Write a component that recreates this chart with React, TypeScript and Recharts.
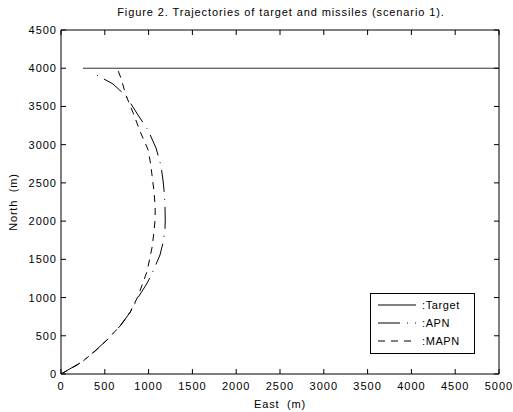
import React from 'react';
import { LineChart, Line, XAxis, YAxis, Legend } from 'recharts';

const TITLE = 'Figure 2. Trajectories of target and missiles (scenario 1).';
const X_LABEL = 'East\u00a0 (m)';
const Y_LABEL = 'North\u00a0 (m)';

const xTicks = [0, 500, 1000, 1500, 2000, 2500, 3000, 3500, 4000, 4500, 5000];
const yTicks = [0, 500, 1000, 1500, 2000, 2500, 3000, 3500, 4000, 4500];

const targetPath = [
  { x: 250, y: 4000 },
  { x: 5000, y: 4000 },
];

const apnPath = [
  { x: 0, y: 0 }, { x: 217, y: 144 }, { x: 388, y: 301 }, { x: 537, y: 458 },
  { x: 685, y: 641 }, { x: 799, y: 824 }, { x: 890, y: 1020 }, { x: 970, y: 1164 },
  { x: 1027, y: 1282 }, { x: 1096, y: 1465 }, { x: 1130, y: 1557 }, { x: 1164, y: 1714 },
  { x: 1187, y: 1884 }, { x: 1190, y: 2014 }, { x: 1187, y: 2211 }, { x: 1176, y: 2407 },
  { x: 1164, y: 2538 }, { x: 1142, y: 2721 }, { x: 1085, y: 2956 }, { x: 993, y: 3192 },
  { x: 879, y: 3388 }, { x: 742, y: 3637 }, { x: 594, y: 3794 }, { x: 365, y: 3937 },
];

const mapnPath = [
  { x: 0, y: 0 }, { x: 220, y: 140 }, { x: 390, y: 300 }, { x: 525, y: 445 },
  { x: 675, y: 630 }, { x: 790, y: 810 }, { x: 870, y: 995 }, { x: 935, y: 1190 },
  { x: 980, y: 1335 }, { x: 1005, y: 1465 }, { x: 1040, y: 1660 }, { x: 1060, y: 1845 },
  { x: 1075, y: 2030 }, { x: 1075, y: 2200 }, { x: 1060, y: 2405 }, { x: 1040, y: 2590 },
  { x: 1025, y: 2735 }, { x: 995, y: 2930 }, { x: 915, y: 3140 }, { x: 820, y: 3425 },
  { x: 740, y: 3650 }, { x: 685, y: 3870 }, { x: 640, y: 4000 },
];

const seriesNames = ['Target', 'APN', 'MAPN'];
const seriesDash = ['', '22 7 1 7', '7 6'];

const FONT = '"Liberation Sans", Arial, Helvetica, sans-serif';
const TICK_LEN = 5;
const BOTTOM_MARGIN = 8;
const LEFT_MARGIN = 4;

const BottomTick = (props: any) => {
  const { x, y, payload } = props;
  const axisY = y - BOTTOM_MARGIN;
  return (
    <g>
      <path d={`M${x},${axisY}V${axisY - TICK_LEN}`} stroke="#000" strokeWidth={1} fill="none" />
      <text x={x} y={y} dy={8} textAnchor="middle" fontSize={11} fill="#000" fontFamily={FONT} letterSpacing={1}>
        {payload.value}
      </text>
    </g>
  );
};

const LeftTick = (props: any) => {
  const { x, y, payload } = props;
  const axisX = x + LEFT_MARGIN;
  return (
    <g>
      <path d={`M${axisX},${y}H${axisX + TICK_LEN}`} stroke="#000" strokeWidth={1} fill="none" />
      <text x={x} y={y} dy={4} textAnchor="end" fontSize={11} fill="#000" fontFamily={FONT} letterSpacing={1}>
        {payload.value}
      </text>
    </g>
  );
};

const TopTick = (props: any) => {
  const { x, y } = props;
  return <path d={`M${x},${y}V${y + TICK_LEN}`} stroke="#000" strokeWidth={1} fill="none" />;
};

const RightTick = (props: any) => {
  const { x, y } = props;
  return <path d={`M${x},${y}H${x - TICK_LEN}`} stroke="#000" strokeWidth={1} fill="none" />;
};

const LegendBox = () => (
  <div
    style={{
      border: '1px solid #000',
      background: '#fff',
      width: 105,
      height: 61,
      boxSizing: 'border-box',
      paddingTop: 2,
      paddingLeft: 7,
      fontFamily: FONT,
      fontSize: 11,
      color: '#000',
    }}
  >
    {seriesNames.map((name, i) => (
      <div key={name} style={{ height: 18, display: 'flex', alignItems: 'center' }}>
        <svg width={38} height={4} style={{ display: 'block' }}>
          <line x1={0} y1={2} x2={38} y2={2} stroke="#000" strokeWidth={1} strokeDasharray={seriesDash[i] || undefined} />
        </svg>
        <span style={{ marginLeft: 6, letterSpacing: 0.6 }}>:{name}</span>
      </div>
    ))}
  </div>
);

export default function App() {
  return (
    <div style={{ position: 'absolute', left: 0, top: 0, width: 513, height: 412, background: '#fff' }}>
      <div
        style={{
          position: 'absolute',
          left: 0,
          top: 6,
          width: 562,
          textAlign: 'center',
          fontFamily: FONT,
          fontSize: 11,
          lineHeight: '13px',
          letterSpacing: 0.9,
          color: '#000',
          whiteSpace: 'nowrap',
        }}
      >
        {TITLE}
      </div>
      <LineChart width={513} height={412} margin={{ top: 29, right: 13, bottom: 0, left: 0 }}>
        <XAxis
          dataKey="x"
          type="number"
          domain={[0, 5000]}
          ticks={xTicks}
          allowDataOverflow
          height={38}
          tickSize={0}
          tickMargin={BOTTOM_MARGIN}
          tick={<BottomTick />}
          tickLine={false}
          axisLine={{ stroke: '#000' }}
          interval={0}
          label={{ value: X_LABEL, position: 'insideBottom', offset: 4, style: { fontSize: 11, fill: '#000', fontFamily: FONT, letterSpacing: 0.8 } }}
        />
        <XAxis
          xAxisId="top"
          orientation="top"
          dataKey="x"
          type="number"
          domain={[0, 5000]}
          ticks={xTicks}
          allowDataOverflow
          height={1}
          tickSize={0}
          tickMargin={0}
          tick={<TopTick />}
          tickLine={false}
          axisLine={{ stroke: '#000' }}
          interval={0}
        />
        <YAxis
          dataKey="y"
          type="number"
          domain={[0, 4500]}
          ticks={yTicks}
          allowDataOverflow
          width={61}
          tickSize={0}
          tickMargin={LEFT_MARGIN}
          tick={<LeftTick />}
          tickLine={false}
          axisLine={{ stroke: '#000' }}
          interval={0}
          label={{ value: Y_LABEL, angle: -90, position: 'insideLeft', offset: 13, style: { fontSize: 11, fill: '#000', fontFamily: FONT, letterSpacing: 0.8, textAnchor: 'middle' } }}
        />
        <YAxis
          yAxisId="right"
          orientation="right"
          dataKey="y"
          type="number"
          domain={[0, 4500]}
          ticks={yTicks}
          allowDataOverflow
          width={1}
          tickSize={0}
          tickMargin={0}
          tick={<RightTick />}
          tickLine={false}
          axisLine={{ stroke: '#000' }}
          interval={0}
        />
        <Legend
          layout="horizontal"
          verticalAlign="middle"
          align="center"
          content={() => <LegendBox />}
          wrapperStyle={{ left: 370, top: 293, width: 105, height: 61 }}
        />
        <Line data={targetPath} dataKey="y" name="Target" stroke="#333" strokeWidth={1} dot={false} isAnimationActive={false} />
        <Line data={apnPath} dataKey="y" name="APN" stroke="#000" strokeWidth={1} strokeDasharray={seriesDash[1]} dot={false} isAnimationActive={false} />
        <Line data={mapnPath} dataKey="y" name="MAPN" stroke="#000" strokeWidth={1} strokeDasharray={seriesDash[2]} dot={false} isAnimationActive={false} />
      </LineChart>
    </div>
  );
}
